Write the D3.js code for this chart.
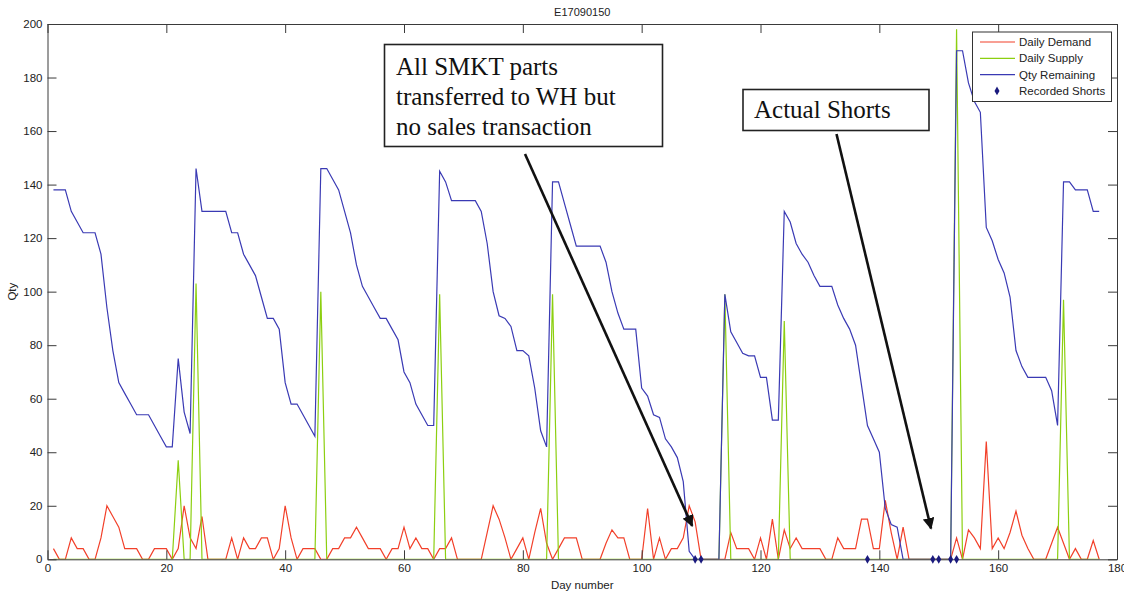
<!DOCTYPE html>
<html><head><meta charset="utf-8">
<script src="https://cdn.jsdelivr.net/npm/d3@7"></script>
<style>body{margin:0;background:#fff;} svg{display:block;}</style>
</head><body>
<svg id="c" width="1124" height="592"></svg>
<script>
const chartTitle = "E17090150";
const xLabel = "Day number";
const yLabel = "Qty";
const firstDay = 1;
const demand = [
 4,0,0,8,4,4,0,0,8,20,
 16,12,4,4,4,0,0,4,4,4,
 0,4,20,8,4,16,0,0,0,0,
 8,0,8,4,4,8,8,0,4,20,
 8,0,4,4,4,0,0,4,4,8,
 8,12,8,4,4,4,0,4,4,12,
 4,8,4,4,0,4,4,8,0,0,
 0,0,0,10,20,15,8,0,4,8,
 0,10,19,6,0,4,8,8,8,0,
 0,0,0,6,11,8,8,0,0,0,
 19,0,8,0,4,4,8,20,14,0,
 0,0,0,0,10,4,4,4,0,8,
 0,15,0,11,4,8,4,4,4,4,
 0,0,8,4,4,4,15,15,4,4,
 22,10,0,12,0,0,0,0,0,0,
 0,0,8,0,11,8,4,44,4,8,
 4,10,18,9,4,0,0,0,6,12,
 6,0,4,0,0,7,0];
const supply = [
 0,0,0,0,0,0,0,0,0,0,
 0,0,0,0,0,0,0,0,0,0,
 0,37,0,0,103,0,0,0,0,0,
 0,0,0,0,0,0,0,0,0,0,
 0,0,0,0,0,100,0,0,0,0,
 0,0,0,0,0,0,0,0,0,0,
 0,0,0,0,0,99,0,0,0,0,
 0,0,0,0,0,0,0,0,0,0,
 0,0,0,0,99,0,0,0,0,0,
 0,0,0,0,0,0,0,0,0,0,
 0,0,0,0,0,0,0,0,0,0,
 0,0,0,99,0,0,0,0,0,0,
 0,0,0,89,0,0,0,0,0,0,
 0,0,0,0,0,0,0,0,0,0,
 0,0,0,0,0,0,0,0,0,0,
 0,0,198,0,0,0,0,0,0,0,
 0,0,0,0,0,0,0,0,0,0,
 97,0,0,0,0,0,0];
const qtyRemaining = [
 138,138,138,130,126,122,122,122,114,94,
 78,66,62,58,54,54,54,50,46,42,
 42,75,55,47,146,130,130,130,130,130,
 122,122,114,110,106,98,90,90,86,66,
 58,58,54,50,46,146,146,142,138,130,
 122,110,102,98,94,90,90,86,82,70,
 66,58,54,50,50,145,141,134,134,134,
 134,134,130,118,100,91,90,87,78,78,
 76,64,48,42,141,141,133,125,117,117,
 117,117,117,111,100,92,86,86,86,64,
 61,54,53,45,42,38,29,3,0,0,
 0,0,0,99,85,81,77,76,76,68,
 68,52,52,130,126,118,114,111,106,102,
 102,102,95,90,86,80,65,50,45,40,
 19,13,12,0,0,0,0,0,0,0,
 0,0,190,190,178,171,167,124,119,112,
 107,98,78,72,68,68,68,68,63,50,
 141,141,138,138,138,130,130];
const shortDays = [109,110,138,149,150,152,153];
const shortValues = [0,0,0,0,0,0,0];
const xTicks = [0,20,40,60,80,100,120,140,160,180];
const yTicks = [0,20,40,60,80,100,120,140,160,180,200];
const seriesNames = ["Daily Demand","Daily Supply","Qty Remaining","Recorded Shorts"];
const note1Lines = ["All SMKT parts","transferred to WH but","no sales transaction"];
const note1Target = [108.5, 12.5];
const note2Lines = ["Actual Shorts"];
const note2Target = [148.7, 11.5];

const colors = {demand:"#f2402a", supply:"#8ccf10", qty:"#3a3ab4", shorts:"#1a1a7e"};
const svg = d3.select("#c");
const L = 47.5, R = 1117, T = 24, B = 559.3;
const x = d3.scaleLinear().domain([0,180]).range([L,R]);
const y = d3.scaleLinear().domain([0,200]).range([B,T]);
const axisColor = "#3a3a3a";
const fontAxis = "Liberation Sans, Arial, sans-serif";

// plot clip
svg.append("defs").append("clipPath").attr("id","clip")
  .append("rect").attr("x",L).attr("y",T-2).attr("width",R-L).attr("height",B-T+2);

const line = d3.line().x((d,i)=>x(firstDay+i)).y(d=>y(d));
const g = svg.append("g").attr("clip-path","url(#clip)");
g.append("path").datum(demand).attr("d",line).attr("fill","none").attr("stroke",colors.demand).attr("stroke-width",1.2);
g.append("path").datum(supply).attr("d",line).attr("fill","none").attr("stroke",colors.supply).attr("stroke-width",1.2);
g.append("path").datum(qtyRemaining).attr("d",line).attr("fill","none").attr("stroke",colors.qty).attr("stroke-width",1.2);

// axes
function styleAxis(sel){
  sel.selectAll("path").attr("stroke",axisColor).attr("stroke-width",1);
  sel.selectAll("line").attr("stroke",axisColor).attr("stroke-width",1);
  sel.selectAll("text").attr("fill","#222").style("font-family",fontAxis).style("font-size","11.5px");
}
svg.append("g").attr("transform",`translate(0,${B})`)
  .call(d3.axisBottom(x).tickValues(xTicks).tickSizeInner(-9).tickSizeOuter(0).tickPadding(5).tickFormat(d3.format("d")))
  .call(styleAxis);
svg.append("g").attr("transform",`translate(0,${T})`)
  .call(d3.axisTop(x).tickValues(xTicks).tickSizeInner(-9).tickSizeOuter(0).tickFormat(""))
  .call(styleAxis);
svg.append("g").attr("transform",`translate(${L},0)`)
  .call(d3.axisLeft(y).tickValues(yTicks).tickSizeInner(-9).tickSizeOuter(0).tickPadding(5).tickFormat(d3.format("d")))
  .call(styleAxis);
svg.append("g").attr("transform",`translate(${R},0)`)
  .call(d3.axisRight(y).tickValues(yTicks).tickSizeInner(-9).tickSizeOuter(0).tickFormat(""))
  .call(styleAxis);

// shorts markers
svg.append("g").selectAll("path").data(shortDays).join("path")
  .attr("transform",(d,i)=>`translate(${x(d)},${y(shortValues[i])})`)
  .attr("d",d3.symbol(d3.symbolDiamond,22)).attr("fill",colors.shorts);

// titles
svg.append("text").attr("x",(L+R)/2).attr("y",16).attr("text-anchor","middle")
  .style("font-family",fontAxis).style("font-size","11px").attr("fill","#222").text(chartTitle);
svg.append("text").attr("x",(L+R)/2).attr("y",589).attr("text-anchor","middle")
  .style("font-family",fontAxis).style("font-size","11.5px").attr("fill","#222").text(xLabel);
svg.append("text").attr("transform",`translate(16,${(T+B)/2}) rotate(-90)`).attr("text-anchor","middle")
  .style("font-family",fontAxis).style("font-size","11.5px").attr("fill","#222").text(yLabel);

// legend
const lg = svg.append("g");
lg.append("rect").attr("x",972.5).attr("y",32).attr("width",139).attr("height",69.5)
  .attr("fill","#fff").attr("stroke","#333").attr("stroke-width",1);
const legColors = [colors.demand, colors.supply, colors.qty, colors.shorts];
seriesNames.forEach((n,i)=>{
  const yy = 42 + i*16.3;
  if(i<3){
    lg.append("line").attr("x1",980).attr("x2",1015).attr("y1",yy).attr("y2",yy)
      .attr("stroke",legColors[i]).attr("stroke-width",1.2);
  } else {
    lg.append("path").attr("transform",`translate(997,${yy})`)
      .attr("d",d3.symbol(d3.symbolDiamond,22)).attr("fill",legColors[i]);
  }
  lg.append("text").attr("x",1019).attr("y",yy+4).style("font-family",fontAxis)
    .style("font-size","11.5px").attr("fill","#222").text(n);
});

// annotations
const defs = svg.select("defs");
defs.append("marker").attr("id","ah").attr("viewBox","0 0 10 10").attr("refX",9).attr("refY",5)
  .attr("markerWidth",4.5).attr("markerHeight",4.5).attr("orient","auto")
  .append("path").attr("d","M0,0L10,5L0,10z").attr("fill","#111");
const serif = "Liberation Serif, Times New Roman, serif";
function note(lines, box, textX, base0, lh, start, target){
  svg.append("line").attr("x1",start[0]).attr("y1",start[1])
    .attr("x2",x(target[0])).attr("y2",y(target[1]))
    .attr("stroke","#111").attr("stroke-width",2.6).attr("marker-end","url(#ah)");
  svg.append("rect").attr("x",box[0]).attr("y",box[1]).attr("width",box[2]).attr("height",box[3])
    .attr("fill","#fff").attr("stroke","#222").attr("stroke-width",1.6);
  lines.forEach((t,i)=>svg.append("text").attr("x",textX).attr("y",base0+i*lh)
    .style("font-family",serif).style("font-size","25px").attr("fill","#111").text(t));
}
note(note1Lines,[384.5,44.5,278,102],396,75,30,[525,154],note1Target);
note(note2Lines,[743,89.5,186,41],754,118,30,[836.5,134],note2Target);
</script>
</body></html>
